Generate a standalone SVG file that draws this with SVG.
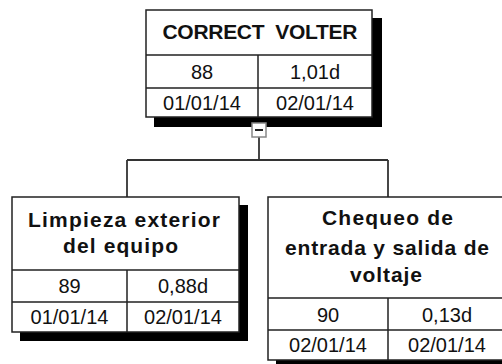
<svg xmlns="http://www.w3.org/2000/svg" width="502" height="364" viewBox="0 0 502 364">
<style>
.sh{fill:#000}
.bx{fill:#fff;stroke:#222;stroke-width:1.5}
.ln{stroke:#222;stroke-width:1.5;fill:none}
.t{font-family:"Liberation Sans",Arial,sans-serif;font-weight:bold;font-size:21px;fill:#111;text-anchor:middle}
.d{font-family:"Liberation Sans",Arial,sans-serif;font-size:20px;fill:#111;text-anchor:middle}
.cn{stroke:#333;stroke-width:1.8;fill:none}
</style>
<rect width="502" height="364" fill="#fff"/>
<g id="connectors">
<path class="cn" d="M259 137 V160 M127 160 H388 M127 160 V197 M388 160 V197"/>
</g>
<g id="root">
<rect class="sh" x="154" y="18" width="228" height="109"/>
<rect class="bx" x="146" y="10" width="226" height="107"/>
<path class="ln" d="M146 55 H372 M146 88 H372 M258 55 V117"/>
<text class="t" x="260" y="39" textLength="195" lengthAdjust="spacing">CORRECT&#160; VOLTER</text>
<text class="d" x="202" y="79">88</text>
<text class="d" x="315" y="79">1,01d</text>
<text class="d" x="202" y="110">01/01/14</text>
<text class="d" x="315" y="110">02/01/14</text>
<rect x="252" y="123" width="14" height="14" fill="#fff" stroke="#888" stroke-width="1.5"/>
<path d="M255 130 H263" stroke="#222" stroke-width="2"/>
</g>
<g id="n89">
<rect class="sh" x="20" y="205" width="228" height="136"/>
<rect class="bx" x="12" y="197" width="227" height="135"/>
<path class="ln" d="M12 270 H239 M12 302 H239 M127 270 V332"/>
<text class="t" x="124" y="227" textLength="192" lengthAdjust="spacing">Limpieza exterior</text>
<text class="t" x="120.5" y="253" textLength="115" lengthAdjust="spacing">del equipo</text>
<text class="d" x="69.5" y="293">89</text>
<text class="d" x="183" y="293">0,88d</text>
<text class="d" x="69.5" y="324">01/01/14</text>
<text class="d" x="183" y="324">02/01/14</text>
</g>
<g id="n90">
<rect class="sh" x="276" y="205" width="242" height="165"/>
<rect class="bx" x="268" y="197" width="240" height="163"/>
<path class="ln" d="M268 298 H508 M268 330 H508 M388 298 V360"/>
<text class="t" x="387.5" y="225" textLength="131" lengthAdjust="spacing">Chequeo de</text>
<text class="t" x="387" y="255" textLength="204" lengthAdjust="spacing">entrada y salida de</text>
<text class="t" x="386" y="282" textLength="72" lengthAdjust="spacing">voltaje</text>
<text class="d" x="328" y="322">90</text>
<text class="d" x="447" y="322">0,13d</text>
<text class="d" x="328" y="352">02/01/14</text>
<text class="d" x="447" y="352">02/01/14</text>
</g>
</svg>
